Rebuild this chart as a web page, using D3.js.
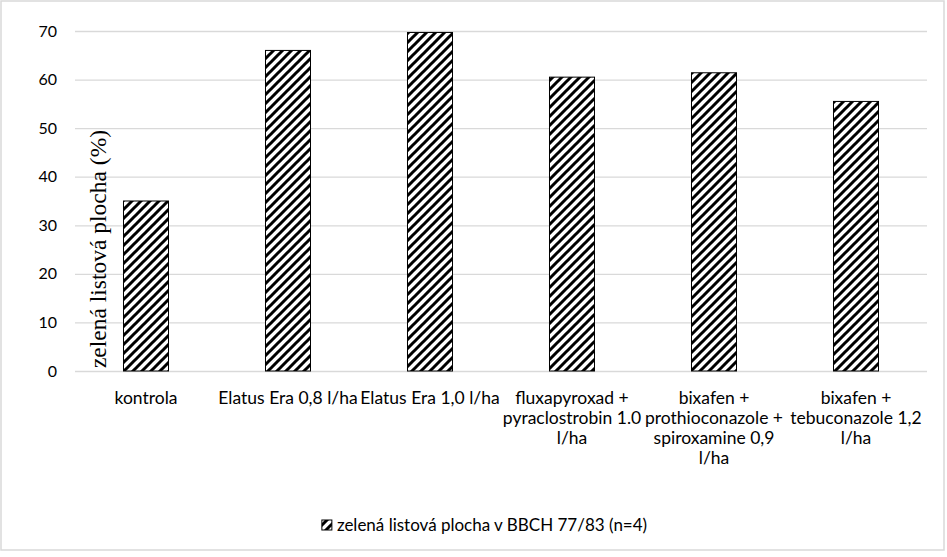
<!DOCTYPE html>
<html>
<head>
<meta charset="utf-8">
<script src="https://cdn.jsdelivr.net/npm/d3@7"></script>
<style>
  body { margin: 0; background: #fff; }
  svg { display: block; }
</style>
</head>
<body>
<div id="chart"></div>
<script>
// categories (each one split into the lines shown under the axis)
const categories = [
  ["kontrola"],
  ["Elatus Era 0,8 l/ha"],
  ["Elatus Era 1,0 l/ha"],
  ["fluxapyroxad +", "pyraclostrobin 1.0", "l/ha"],
  ["bixafen +", "prothioconazole +", "spiroxamine 0,9", "l/ha"],
  ["bixafen +", "tebuconazole 1,2", "l/ha"]
];
const values = [35, 66, 69.7, 60.5, 61.4, 55.5];
const yTicks = [0, 10, 20, 30, 40, 50, 60, 70];
const seriesName = "zelená listová plocha v BBCH 77/83 (n=4)";
const yLabel = "zelená listová plocha (%)";

const width = 947;
const height = 557;
const marginTop = 31;
const marginRight = 20;
const marginBottom = 186;
const marginLeft = 75;
const labelFont = "Lato, 'Open Sans', sans-serif";

const data = categories.map((c, i) => ({ key: c.join(" "), lines: c, value: values[i] }));

const x = d3.scaleBand(data.map(d => d.key), [marginLeft, width - marginRight])
    .paddingInner(0.683)
    .paddingOuter(0.3415);

const y = d3.scaleLinear([0, 70], [height - marginBottom, marginTop]);

const svg = d3.select("#chart").append("svg")
    .attr("width", width)
    .attr("height", height)
    .attr("viewBox", [0, 0, width, height]);

// hatch fill, like the office "wide upward diagonal" pattern
const defs = svg.append("defs");
const pat = defs.append("pattern")
    .attr("id", "hatch")
    .attr("patternUnits", "userSpaceOnUse")
    .attr("width", 9)
    .attr("height", 9);
pat.append("rect").attr("width", 9).attr("height", 9).attr("fill", "#fff");
pat.append("path")
    .attr("d", "M-2,2 L2,-2 M0,9 L9,0 M7,11 L11,7")
    .attr("stroke", "#000")
    .attr("stroke-width", 3);

// outer chart border
svg.append("rect")
    .attr("x", 1).attr("y", 1)
    .attr("width", width - 4).attr("height", height - 8)
    .attr("fill", "#fff")
    .attr("stroke", "#d9d9d9")
    .attr("stroke-width", 1.5);

// y axis: labels only, with grid lines
svg.append("g")
    .attr("transform", `translate(${marginLeft},0)`)
    .call(d3.axisLeft(y).tickValues(yTicks).tickSize(0).tickPadding(18))
    .call(g => g.select(".domain").remove())
    .call(g => g.selectAll(".tick text")
        .attr("font-family", labelFont)
        .attr("font-size", 16)
        .attr("fill", "#000"))
    .call(g => g.selectAll(".tick line")
        .attr("x2", width - marginLeft - marginRight)
        .attr("stroke", "#d9d9d9")
        .attr("stroke-width", 1.3));

// bars
svg.append("g")
  .selectAll("rect")
  .data(data)
  .join("rect")
    .attr("x", d => x(d.key))
    .attr("y", d => y(d.value))
    .attr("width", x.bandwidth())
    .attr("height", d => y(0) - y(d.value))
    .attr("fill", "url(#hatch)")
    .attr("stroke", "#000")
    .attr("stroke-width", 1);

// x axis labels
const xAxis = svg.append("g")
    .attr("transform", `translate(0,${height - marginBottom})`)
    .call(d3.axisBottom(x).tickSize(0).tickFormat(""))
    .call(g => g.select(".domain").remove());

xAxis.selectAll(".tick").each(function(key) {
  const d = data.find(e => e.key === key);
  const t = d3.select(this).select("text")
      .attr("font-family", labelFont)
      .attr("font-size", 17.5)
      .attr("fill", "#000")
      .attr("y", 0)
      .attr("dy", null);
  d.lines.forEach((line, i) => {
    t.append("tspan")
        .attr("x", 0)
        .attr("y", 33 + i * 20)
        .text(line);
  });
});

// y axis title
svg.append("text")
    .attr("transform", `translate(106,${249}) rotate(-90)`)
    .attr("text-anchor", "middle")
    .attr("font-family", "'Liberation Serif', 'Times New Roman', serif")
    .attr("font-size", 23.5)
    .attr("fill", "#000")
    .text(yLabel);

// legend
const legend = svg.append("g").attr("transform", "translate(484,525)");
const legText = legend.append("text")
    .attr("x", 0)
    .attr("y", 6)
    .attr("font-family", labelFont)
    .attr("font-size", 17)
    .attr("fill", "#000")
    .text(seriesName);
const tw = legText.node().getComputedTextLength();
const lx = -(tw + 16) / 2;
legText.attr("x", lx + 16);
legend.append("rect")
    .attr("x", lx + 1)
    .attr("y", -5)
    .attr("width", 10)
    .attr("height", 10)
    .attr("fill", "url(#hatch)")
    .attr("stroke", "#000")
    .attr("stroke-width", 1);
</script>
</body>
</html>
